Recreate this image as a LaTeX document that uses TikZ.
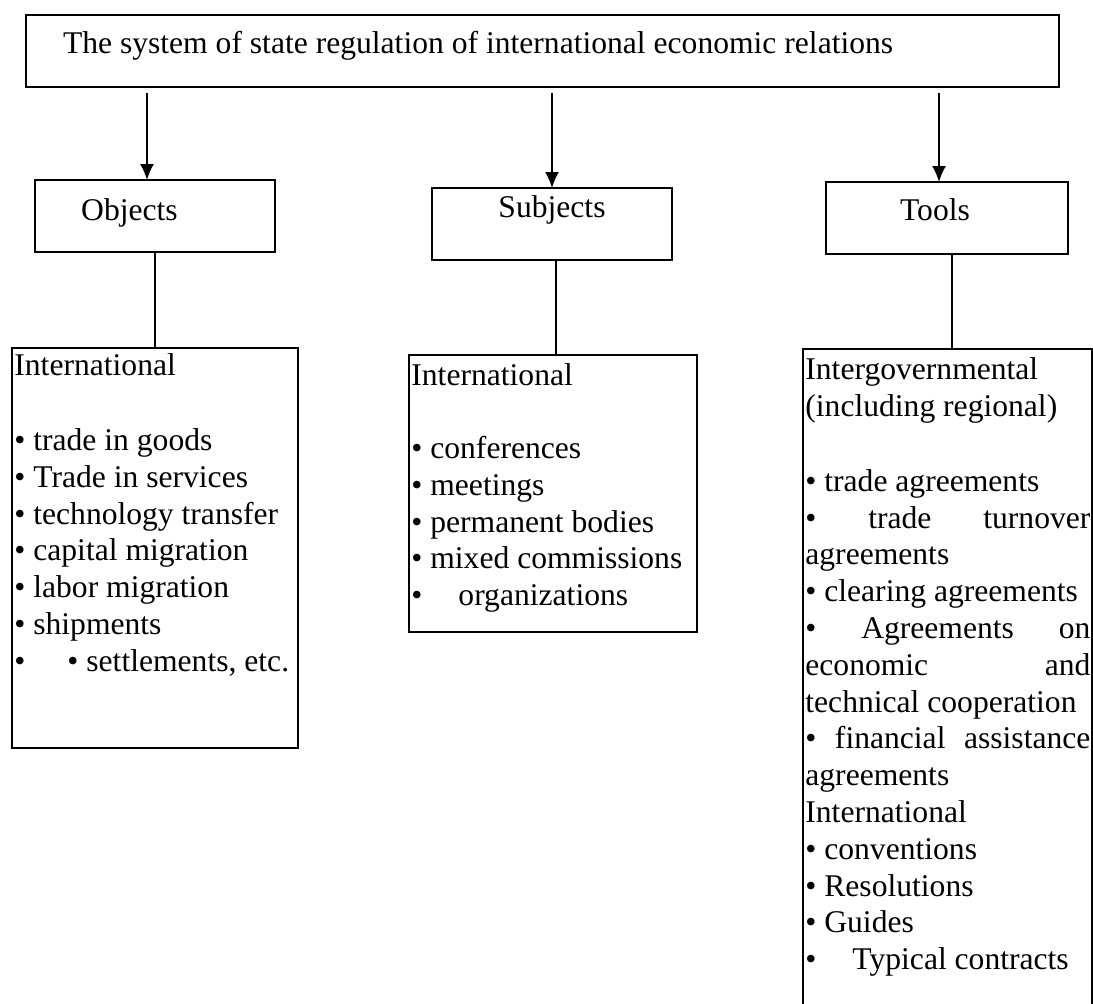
\documentclass[tikz,border=0pt]{standalone}
\usepackage{fontspec}
\setmainfont{Liberation Serif}
\usetikzlibrary{arrows.meta,calc}

\tikzset{
  box/.style={draw, line width=0.9pt, inner sep=0pt, outer sep=0pt},
  headbox/.style={box, minimum width=120pt, minimum height=36pt, text height=11pt},
  listtext/.style={anchor=north west, align=flush left, inner xsep=1pt},
  link/.style={line width=0.9pt},
  arr/.style={line width=0.9pt, -{Latex[length=8pt,width=7pt]}},
}

\begin{document}
\begin{tikzpicture}[x=0.5pt, y=-0.5pt, font=\fontsize{15.8pt}{18.4pt}\selectfont]
    \useasboundingbox (0,0) rectangle (1093,1003);
    \clip (0,0) rectangle (1093,1003);

    % title
    \node[box, minimum height=36pt, text width=479.5pt, inner xsep=18.5pt, align=flush left,
          text height=11pt, text depth=9pt] (top) at (542.5,51)
          {The system of state regulation of international economic relations};

    % headings
    \node[headbox, text depth=7pt] (objects) at (155,216) {\hspace*{-25.5pt}Objects};
    \node[headbox, text depth=18pt] (subjects) at (552,224) {Subjects};
    \node[headbox, minimum width=121pt, text depth=9pt] (tools) at (947,218) {\hspace*{-12pt}Tools};

    % lists
    \node[box, anchor=north west, minimum width=143pt, minimum height=200pt] (objbox) at (12,348) {};
    \node[listtext, text width=141pt, inner ysep=2.7pt] (objlist) at (objbox.north west)
          {International\\[19pt]
           • trade in goods\\
           • Trade in services\\
           • technology transfer\\
           • capital migration\\
           • labor migration\\
           • shipments\\
           •\hspace*{21pt}• settlements, etc.};

    \node[box, anchor=north west, minimum width=144pt, minimum height=138.5pt] (subbox) at (409,355) {};
    \node[listtext, text width=142pt, inner ysep=4.2pt] (sublist) at (subbox.north west)
          {International\\[18pt]
           • conferences\\
           • meetings\\
           • permanent bodies\\
           • mixed commissions\\
           •\hspace*{18pt}organizations};

    \node[box, anchor=north west, minimum width=144.5pt, minimum height=350pt] (toolbox) at (803,349) {};
    \node[listtext, text width=142.5pt, inner ysep=4.2pt] (toollist) at (toolbox.north west)
          {Intergovernmental\\
           (including regional)\\[19pt]
           • trade agreements\\
           •\hfill trade\hfill turnover\\
           agreements\\
           • clearing agreements\\
           •\hfill Agreements\hfill on\\
           economic\hfill and\\
           technical cooperation\\
           •\hfill financial\hfill assistance\\
           agreements\\
           International\\
           • conventions\\
           • Resolutions\\
           • Guides\\
           •\hspace*{18pt}Typical contracts};

    % arrows from the title
    \draw[arr] ($(top.south -| objects.north)+(-8,6)$) -- ([xshift=-4pt]objects.north);
    \draw[arr] ($(top.south -| subjects.north)+(0,6)$) -- (subjects.north);
    \draw[arr] ($(top.south -| tools.north)+(-8,6)$) -- ([xshift=-4pt]tools.north);

    % links to the lists
    \draw[link] (objects.south) -- (objects.south |- objbox.north);
    \draw[link] ([xshift=2pt]subjects.south) -- ([xshift=2pt]subjects.south |- subbox.north);
    \draw[link] ([xshift=2.5pt]tools.south) -- ([xshift=2.5pt]tools.south |- toolbox.north);
\end{tikzpicture}
\end{document}
